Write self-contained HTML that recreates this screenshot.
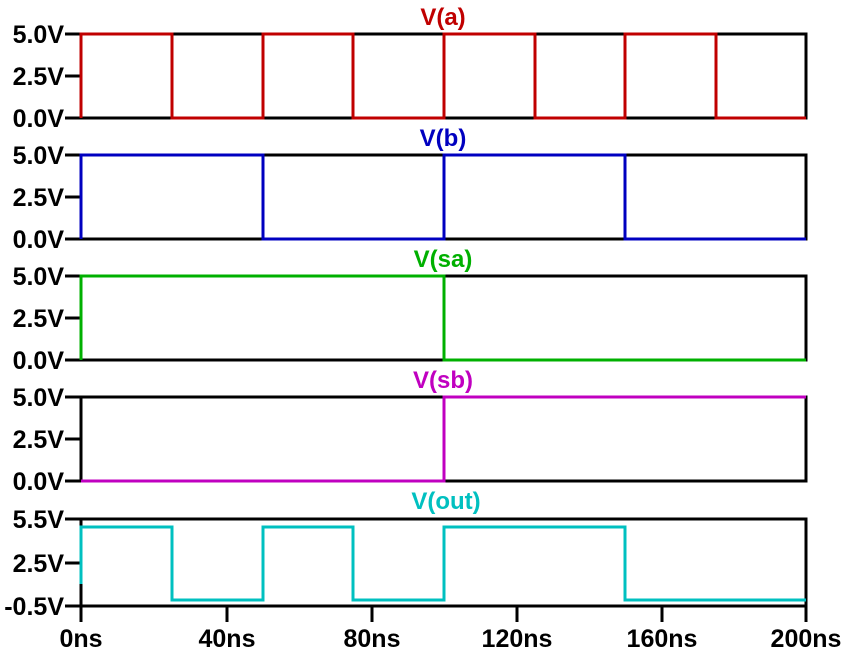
<!DOCTYPE html>
<html><head><meta charset="utf-8"><style>
html,body{margin:0;padding:0;background:#fff;width:845px;height:657px;overflow:hidden}
text{font-family:"Liberation Sans",Arial,sans-serif;font-weight:bold;font-size:25px}
.t{font-size:24px}
</style></head><body>
<svg width="845" height="657" viewBox="0 0 845 657" xmlns="http://www.w3.org/2000/svg">
<g fill="none" stroke-width="3" stroke-linejoin="miter">
<g stroke="#000" stroke-width="3">
<rect x="81" y="34" width="725" height="84"/>
<rect x="81" y="155" width="725" height="84"/>
<rect x="81" y="276" width="725" height="84"/>
<rect x="81" y="397" width="725" height="84"/>
<rect x="81" y="519" width="725" height="87"/>
<path d="M65 34H81M65 76H81M65 118H81M65 155H81M65 197H81M65 239H81M65 276H81M65 318H81M65 360H81M65 397H81M65 439H81M65 481H81M65 519H81M65 563H81M65 606H81"/>
<path d="M81 606V622M227 606V622M372 606V622M517 606V622M662 606V622M806 606V622"/>
</g>
<path stroke="#c00000" d="M81 118V34H172V118H263V34H353V118H444V34H535V118H625V34H716V118H806"/>
<path stroke="#0000c0" d="M81 239V155H263V239H444V155H625V239H806"/>
<path stroke="#00b000" d="M81 360V276H444V360H806"/>
<path stroke="#c000c0" d="M81 481H444V397H806"/>
<path stroke="#00c0c0" d="M81 584V527H172V600H263V527H353V600H444V527H625V600H806"/>
</g>
<g text-anchor="end" fill="#000">
<text x="64" y="43">5.0V</text><text x="64" y="85">2.5V</text><text x="64" y="127">0.0V</text>
<text x="64" y="164">5.0V</text><text x="64" y="206">2.5V</text><text x="64" y="248">0.0V</text>
<text x="64" y="285">5.0V</text><text x="64" y="327">2.5V</text><text x="64" y="369">0.0V</text>
<text x="64" y="406">5.0V</text><text x="64" y="448">2.5V</text><text x="64" y="490">0.0V</text>
<text x="64" y="528">5.5V</text><text x="64" y="572">2.5V</text><text x="64" y="615">-0.5V</text>
</g>
<g text-anchor="middle" fill="#000">
<text x="81" y="647">0ns</text><text x="227" y="647">40ns</text><text x="372" y="647">80ns</text>
<text x="517" y="647">120ns</text><text x="662" y="647">160ns</text><text x="806" y="647">200ns</text>
</g>
<g text-anchor="middle" class="t">
<text class="t" x="443" y="25" fill="#c00000">V(a)</text>
<text class="t" x="443" y="146" fill="#0000c0">V(b)</text>
<text class="t" x="443" y="267" fill="#00b000">V(sa)</text>
<text class="t" x="443" y="388" fill="#c000c0">V(sb)</text>
<text class="t" x="446" y="509" fill="#00c0c0">V(out)</text>
</g>
</svg>
</body></html>
